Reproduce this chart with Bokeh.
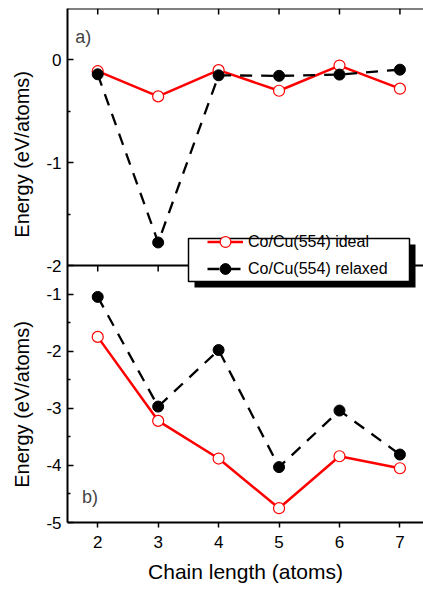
from bokeh.plotting import figure
from bokeh.models import (Range1d, LinearAxis, FixedTicker, CustomJSTickFormatter,
                          Span, Legend, LegendItem, Label, BoxAnnotation)
from bokeh.embed import file_html
from bokeh.resources import INLINE

# ---------------- data ----------------
chain = [2, 3, 4, 5, 6, 7]
top_ideal = [-0.11, -0.355, -0.10, -0.30, -0.055, -0.28]
top_relaxed = [-0.14, -1.776, -0.15, -0.155, -0.143, -0.095]
bottom_ideal = [-1.75, -3.22, -3.88, -4.75, -3.84, -4.05]
bottom_relaxed = [-1.05, -2.97, -1.98, -4.03, -3.04, -3.81]

x_ticks = [2, 3, 4, 5, 6, 7]
top_major = [0, -1, -2]
top_minor = [-0.5, -1.5]
bottom_major = [-1, -2, -3, -4, -5]
bottom_minor = [-1.5, -2.5, -3.5, -4.5]

series_labels = ["Co/Cu(554) ideal", "Co/Cu(554) relaxed"]
panel_labels = ["a)", "b)"]
y_label = "Energy (eV/atoms)"
x_label = "Chain length (atoms)"

FONT = "Liberation Sans"
NB = "\u00a0"

# ranges: top panel occupies upper half, bottom panel lower half
T0, T1 = -4.5, 0.5     # top panel: -2 .. 0.5 in the upper half
B0, B1 = -5.0, 4.0     # bottom panel: -5 .. -0.5 in the lower half


def b2t(v):
    return T0 + (v - B0) * (T1 - T0) / (B1 - B0)


p = figure(width=423, height=590, output_backend="svg", toolbar_location=None,
           x_range=Range1d(1.5, 7.39), y_range=Range1d(T0, T1),
           min_border_left=67, min_border_right=0, min_border_top=8,
           min_border_bottom=68, x_axis_location=None, y_axis_location=None)
p.extra_y_ranges = {"bottom": Range1d(B0, B1)}
p.outline_line_color = None
p.grid.visible = False
p.background_fill_color = "white"
p.border_fill_color = "white"

# left axis (both panels); one title per panel, joined in the axis label
left = LinearAxis(
    ticker=FixedTicker(ticks=top_major + [b2t(v) for v in bottom_major],
                       minor_ticks=top_minor + [b2t(v) for v in bottom_minor]),
    formatter=CustomJSTickFormatter(args=dict(t0=T0, t1=T1, b0=B0, b1=B1), code="""
        if (tick > -2.05) { return Math.round(tick).toString(); }
        const v = b0 + (tick - t0) * (b1 - b0) / (t1 - t0);
        return Math.round(v).toString();
    """))
left.axis_line_width = 2
left.major_tick_in = 6
left.major_tick_out = 0
left.minor_tick_in = 3
left.minor_tick_out = 0
left.major_tick_line_width = 1.5
left.minor_tick_line_width = 1.5
left.major_label_standoff = 6
left.major_label_text_font = FONT
left.major_label_text_font_size = "17px"
left.major_label_text_color = "black"
left.axis_label = y_label + NB * 15 + y_label + NB * 5
left.axis_label_text_font = FONT
left.axis_label_text_font_size = "20px"
left.axis_label_text_font_style = "normal"
left.axis_label_text_color = "black"
left.axis_label_standoff = 10
p.add_layout(left, "left")

# bottom axis
bottom = LinearAxis(ticker=FixedTicker(ticks=x_ticks, minor_ticks=[]))
bottom.axis_line_width = 2
bottom.major_tick_in = 0
bottom.major_tick_out = 5
bottom.major_tick_line_width = 1.5
bottom.major_label_standoff = 8
bottom.major_label_text_font = FONT
bottom.major_label_text_font_size = "17px"
bottom.major_label_text_color = "black"
bottom.axis_label = x_label
bottom.axis_label_text_font = FONT
bottom.axis_label_text_font_size = "21px"
bottom.axis_label_text_font_style = "normal"
bottom.axis_label_text_color = "black"
bottom.axis_label_standoff = 9
p.add_layout(bottom, "below")

# top border and separator between panels
p.add_layout(Span(location=T1, dimension="width", line_color="black", line_width=2))
p.add_layout(Span(location=-2, dimension="width", line_color="black", line_width=2))
# inward ticks on the top edges of both panels
tick_top = 6 * (T1 - T0) / 514.0
tick_bot = 6 * (B1 - B0) / 514.0
p.segment(x0=x_ticks, y0=[T1] * len(x_ticks), x1=x_ticks,
          y1=[T1 - tick_top] * len(x_ticks), line_color="black", line_width=1.5)
p.segment(x0=x_ticks, y0=[-0.5] * len(x_ticks), x1=x_ticks,
          y1=[-0.5 - tick_bot] * len(x_ticks), line_color="black", line_width=1.5,
          y_range_name="bottom")

# ---- series ----
RED = "#ff0000"
l1 = p.line(chain, top_ideal, line_color=RED, line_width=2.5)
l2 = p.line(chain, bottom_ideal, line_color=RED, line_width=2.5, y_range_name="bottom")
m1 = p.scatter(chain, top_ideal, size=11, marker="circle", fill_color="white",
               line_color=RED, line_width=1.2)
m2 = p.scatter(chain, bottom_ideal, size=11, marker="circle", fill_color="white",
               line_color=RED, line_width=1.2, y_range_name="bottom")
l3 = p.line(chain, top_relaxed, line_color="black", line_width=2.3, line_dash="12 9")
l4 = p.line(chain, bottom_relaxed, line_color="black", line_width=2.3, line_dash="12 9",
            y_range_name="bottom")
m3 = p.scatter(chain, top_relaxed, size=11, marker="circle", fill_color="black",
               line_color="black")
m4 = p.scatter(chain, bottom_relaxed, size=11, marker="circle", fill_color="black",
               line_color="black", y_range_name="bottom")

# ---- legend box with drop shadow (screen units, frame-relative) ----
p.add_layout(BoxAnnotation(left=127, right=348, bottom=235, top=278,
                           left_units="screen", right_units="screen",
                           bottom_units="screen", top_units="screen",
                           fill_color="black", fill_alpha=1.0, line_color=None))
p.add_layout(BoxAnnotation(left=121, right=342, bottom=241, top=284,
                           left_units="screen", right_units="screen",
                           bottom_units="screen", top_units="screen",
                           fill_color="white", fill_alpha=1.0, line_color="black",
                           line_alpha=1.0, line_width=1.5))

legend = Legend(items=[LegendItem(label=series_labels[0], renderers=[l1, m1]),
                       LegendItem(label=series_labels[1], renderers=[l3, m3])],
                location=(140, 240), orientation="vertical",
                label_text_font=FONT, label_text_font_size="16px",
                label_text_color="black",
                glyph_width=36, glyph_height=27, label_height=27, spacing=-8,
                padding=0, margin=0, label_standoff=5,
                border_line_color=None, background_fill_alpha=0.0)
p.add_layout(legend, "center")

# ---- panel labels ----
p.add_layout(Label(x=1.63, y=0.22, text=panel_labels[0], text_font=FONT,
                   text_font_size="18px", text_baseline="middle"))
p.add_layout(Label(x=1.74, y=-4.545, text=panel_labels[1], text_font=FONT,
                   text_font_size="18px", text_baseline="middle", y_range_name="bottom"))

open("out.html", "w").write(file_html(p, INLINE))
